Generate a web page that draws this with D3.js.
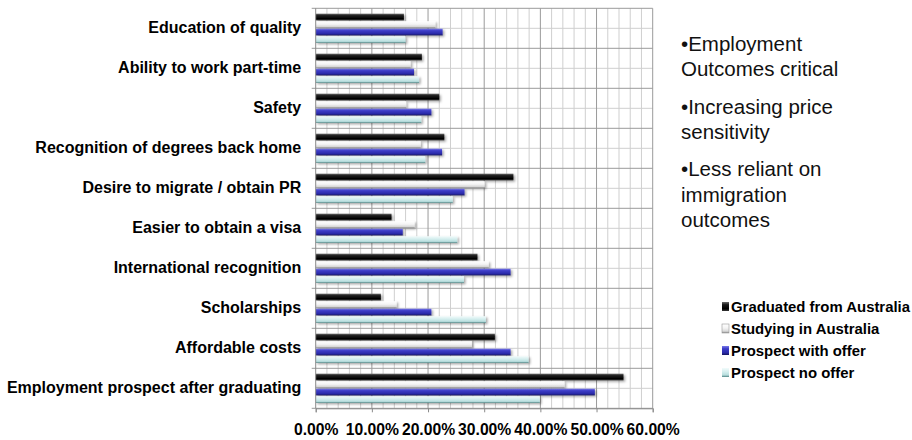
<!DOCTYPE html>
<html>
<head>
<meta charset="utf-8">
<script src="https://cdn.jsdelivr.net/npm/d3@7/dist/d3.min.js"></script>
<style>
  html, body { margin: 0; padding: 0; background: #fff; }
  svg { display: block; font-family: "Liberation Sans", Arial, sans-serif; }
</style>
</head>
<body>
<svg id="chart" width="912" height="440"></svg>
<script>
// Reasons for choosing Australia, by student group (share of respondents)
const categories = [
  "Education of quality",
  "Ability to work part-time",
  "Safety",
  "Recognition of degrees back home",
  "Desire to migrate / obtain PR",
  "Easier to obtain a visa",
  "International recognition",
  "Scholarships",
  "Affordable costs",
  "Employment prospect after graduating"
];
const seriesNames = [
  "Graduated from Australia",
  "Studying in Australia",
  "Prospect with offer",
  "Prospect no offer"
];
const graduated   = [0.157, 0.189, 0.220, 0.229, 0.352, 0.135, 0.288, 0.116, 0.319, 0.548];
const studying    = [0.213, 0.169, 0.161, 0.187, 0.301, 0.176, 0.308, 0.144, 0.278, 0.443];
const withOffer   = [0.226, 0.175, 0.206, 0.225, 0.265, 0.155, 0.347, 0.206, 0.347, 0.497];
const noOffer     = [0.160, 0.184, 0.188, 0.195, 0.244, 0.252, 0.264, 0.303, 0.379, 0.399];
const xTicks = [0, 0.1, 0.2, 0.3, 0.4, 0.5, 0.6];
const notes = [
  ["\u2022Employment", "Outcomes critical"],
  ["\u2022Increasing price", "sensitivity"],
  ["\u2022Less reliant on", "immigration", "outcomes"]
];

const seriesValues = [graduated, studying, withOffer, noOffer];
const rows = categories.map((c, i) => ({
  category: c,
  values: seriesValues.map((vals, s) => ({ series: seriesNames[s], s, value: vals[i] }))
}));

const svg = d3.select("#chart");
const plot = { left: 315.7, right: 652.7, top: 8.3, bottom: 408.3 };

const x = d3.scaleLinear().domain([0, 0.6]).range([plot.left, plot.right]);
const y = d3.scaleBand().domain(categories).range([plot.top, plot.bottom])
  .paddingInner(0.25).paddingOuter(0.125);
const ySub = d3.scaleBand().domain(seriesNames).range([0, y.bandwidth()]);

// Bevelled fills for each series
const defs = svg.append("defs");
const fills = [
  [["0%", "#6a6a6a"], ["30%", "#1a1a1a"], ["75%", "#000"], ["100%", "#3a3a3a"]],
  [["0%", "#ffffff"], ["45%", "#f4f4f4"], ["80%", "#d8d8d8"], ["100%", "#8a8a8a"]],
  [["0%", "#7a7ae8"], ["30%", "#3c3cc8"], ["75%", "#2a2aa8"], ["100%", "#15155e"]],
  [["0%", "#f2fbfb"], ["40%", "#d6efef"], ["78%", "#b8dede"], ["100%", "#4e8484"]]
];
fills.forEach((stops, i) => {
  const g = defs.append("linearGradient").attr("id", "fill" + i)
    .attr("x1", 0).attr("y1", 0).attr("x2", 0).attr("y2", 1);
  stops.forEach(([o, c]) => g.append("stop").attr("offset", o).attr("stop-color", c));
});
const shadow = defs.append("filter").attr("id", "shade")
  .attr("x", "-5%").attr("y", "-40%").attr("width", "115%").attr("height", "200%");
shadow.append("feDropShadow").attr("dx", 1.6).attr("dy", 1.4)
  .attr("stdDeviation", 0.9).attr("flood-color", "#000").attr("flood-opacity", 0.35);

// Vertical grid: minor every 2%, major every 10%
const minor = d3.range(0.02, 0.6001, 0.02).filter(v => Math.abs(v * 10 - Math.round(v * 10)) > 1e-6);
svg.append("g").selectAll("line").data(minor).join("line")
  .attr("x1", d => x(d)).attr("x2", d => x(d))
  .attr("y1", plot.top).attr("y2", plot.bottom)
  .attr("stroke", "#cfcfcf").attr("stroke-width", 1);

// Horizontal grid: category boundaries and half steps
const step = y.step();
const bounds = d3.range(categories.length + 1).map(i => plot.top + i * step);
const halves = d3.range(categories.length).map(i => plot.top + (i + 0.5) * step);
svg.append("g").selectAll("line").data(halves).join("line")
  .attr("x1", plot.left).attr("x2", plot.right)
  .attr("y1", d => d).attr("y2", d => d)
  .attr("stroke", "#cfcfcf");
svg.append("g").selectAll("line").data(xTicks.slice(1)).join("line")
  .attr("x1", d => x(d)).attr("x2", d => x(d))
  .attr("y1", plot.top).attr("y2", plot.bottom)
  .attr("stroke", "#9a9a9a");
svg.append("g").selectAll("line").data(bounds).join("line")
  .attr("x1", plot.left - 4).attr("x2", plot.right)
  .attr("y1", d => d).attr("y2", d => d)
  .attr("stroke", "#9a9a9a");

// Bars
const groups = svg.append("g").selectAll("g").data(rows).join("g")
  .attr("transform", d => `translate(0,${y(d.category)})`);
groups.selectAll("rect").data(d => d.values).join("rect")
  .attr("x", x(0))
  .attr("y", d => ySub(d.series) + 0.4)
  .attr("width", d => x(d.value) - x(0))
  .attr("height", ySub.bandwidth() - 0.8)
  .attr("fill", d => `url(#fill${d.s})`)
  .attr("filter", "url(#shade)");

// Left axis line
svg.append("line")
  .attr("x1", plot.left).attr("x2", plot.left)
  .attr("y1", plot.top).attr("y2", plot.bottom)
  .attr("stroke", "#8a8a8a");

// Category labels
const yAxis = svg.append("g")
  .attr("transform", `translate(${plot.left},0)`)
  .call(d3.axisLeft(y).tickSize(0).tickPadding(14.5));
yAxis.select(".domain").remove();
yAxis.selectAll("text")
  .attr("font-family", "'Liberation Sans', Arial, sans-serif")
  .attr("font-size", 16).attr("font-weight", "bold").attr("fill", "#000");

// Bottom axis
const xAxis = svg.append("g")
  .attr("transform", `translate(0,${plot.bottom})`)
  .call(d3.axisBottom(x).tickValues(xTicks).tickFormat(d3.format(".2%")).tickSize(4).tickPadding(12));
xAxis.select(".domain").attr("stroke", "#8a8a8a");
xAxis.selectAll(".tick line").attr("stroke", "#8a8a8a");
xAxis.selectAll("text")
  .attr("font-family", "'Liberation Sans', Arial, sans-serif")
  .attr("font-size", 15.7).attr("font-weight", "bold").attr("fill", "#000");

// Side notes
const noteG = svg.append("g").attr("font-size", 20.5).attr("fill", "#111");
let lineY = 51;
notes.forEach(par => {
  par.forEach(line => {
    noteG.append("text").attr("x", 681).attr("y", lineY).text(line);
    lineY += 25.4;
  });
  lineY += 11.8;
});

// Legend
const legend = svg.append("g").attr("transform", "translate(722,307)");
const items = legend.selectAll("g").data(seriesNames).join("g")
  .attr("transform", (d, i) => `translate(0,${i * 22})`);
items.append("rect")
  .attr("x", 0).attr("y", -5).attr("width", 7).attr("height", 9)
  .attr("fill", (d, i) => `url(#fill${i})`)
  .attr("stroke", (d, i) => i === 1 ? "#999" : "none").attr("stroke-width", 0.6);
items.append("text")
  .attr("x", 9).attr("y", 0).attr("dy", "0.36em")
  .attr("font-size", 14.9).attr("font-weight", "bold").attr("fill", "#000")
  .text(d => d);
</script>
</body>
</html>
